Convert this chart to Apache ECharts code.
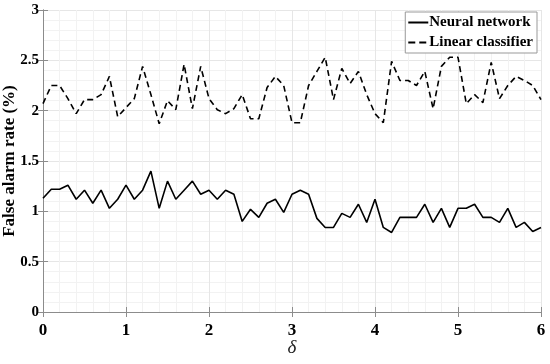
<!DOCTYPE html>
<html>
<head>
<meta charset="utf-8">
<script src="https://cdn.jsdelivr.net/npm/echarts@6/dist/echarts.min.js"></script>
<style>
  html, body { margin: 0; padding: 0; background: #fff; }
  #chart { width: 550px; height: 364px; }
</style>
</head>
<body>
<div id="chart"></div>
<script>
const delta = [
  0.0, 0.1, 0.2, 0.3, 0.4, 0.5, 0.6, 0.7, 0.8, 0.9,
  1.0, 1.1, 1.2, 1.3, 1.4, 1.5, 1.6, 1.7, 1.8, 1.9,
  2.0, 2.1, 2.2, 2.3, 2.4, 2.5, 2.6, 2.7, 2.8, 2.9,
  3.0, 3.1, 3.2, 3.3, 3.4, 3.5, 3.6, 3.7, 3.8, 3.9,
  4.0, 4.1, 4.2, 4.3, 4.4, 4.5, 4.6, 4.7, 4.8, 4.9,
  5.0, 5.1, 5.2, 5.3, 5.4, 5.5, 5.6, 5.7, 5.8, 5.9, 6.0
]

const neuralNetwork = [
  1.13, 1.22, 1.22, 1.26, 1.12, 1.21, 1.08, 1.21, 1.03, 1.12,
  1.26, 1.12, 1.21, 1.40, 1.03, 1.30, 1.12, 1.21, 1.30, 1.17,
  1.21, 1.12, 1.21, 1.17, 0.90, 1.02, 0.94, 1.08, 1.12, 0.99,
  1.17, 1.21, 1.17, 0.93, 0.84, 0.84, 0.98, 0.94, 1.07, 0.89,
  1.12, 0.84, 0.79, 0.94, 0.94, 0.94, 1.07, 0.89, 1.03, 0.84,
  1.03, 1.03, 1.07, 0.94, 0.94, 0.89, 1.03, 0.84, 0.89, 0.80, 0.84
]

const linearClassifier = [
  2.07, 2.25, 2.25, 2.12, 1.97, 2.11, 2.11, 2.16, 2.34, 1.94,
  2.03, 2.12, 2.44, 2.16, 1.87, 2.10, 2.01, 2.46, 2.02, 2.44,
  2.12, 2.01, 1.97, 2.02, 2.16, 1.92, 1.92, 2.23, 2.34, 2.25,
  1.88, 1.88, 2.25, 2.39, 2.53, 2.11, 2.42, 2.27, 2.39, 2.16,
  1.97, 1.88, 2.49, 2.30, 2.30, 2.25, 2.39, 2.02, 2.44, 2.53,
  2.53, 2.07, 2.16, 2.08, 2.48, 2.12, 2.25, 2.34, 2.30, 2.25, 2.11
]

const xTicks = [0, 1, 2, 3, 4, 5, 6]
const yTicks = [0, 0.5, 1, 1.5, 2, 2.5, 3]

const serif = '"Liberation Serif", "Times New Roman", serif'
const axisGray = '#8c8c8c'

const chart = echarts.init(document.getElementById('chart'), null, { renderer: 'canvas' })

function pairs(ys) {
  return delta.map((d, i) => [d, ys[i]])
}

const baseX = {
  type: 'value',
  min: xTicks[0],
  max: xTicks[xTicks.length - 1],
  interval: 1,
  axisLine: { show: true, lineStyle: { color: axisGray, width: 1 } },
  axisTick: { show: true, inside: true, length: 5, lineStyle: { color: axisGray } },
  splitLine: { show: true, lineStyle: { color: '#e6e6e6', width: 1 } },
  minorTick: { show: false, splitNumber: 5 },
  minorSplitLine: { show: true, lineStyle: { color: '#f2f2f2', width: 1 } }
}

const baseY = {
  type: 'value',
  min: yTicks[0],
  max: yTicks[yTicks.length - 1],
  interval: 0.5,
  axisLine: { show: true, lineStyle: { color: axisGray, width: 1 } },
  axisTick: { show: true, inside: true, length: 5, lineStyle: { color: axisGray } },
  splitLine: { show: true, lineStyle: { color: '#e6e6e6', width: 1 } },
  minorTick: { show: false, splitNumber: 5 },
  minorSplitLine: { show: true, lineStyle: { color: '#f2f2f2', width: 1 } }
}

// legend glyphs: a plain stroke and a two-dash stroke
const solidIcon = 'path://M0,0h20v2h-20z'
const dashIcon = 'path://M0,0h7v2h-7z M11,0h7v2h-7z M20,0h0.01v2h-0.01z'

chart.setOption({
  backgroundColor: '#ffffff',
  animation: false,
  grid: { left: 43, right: 9, top: 10, bottom: 52, containLabel: false, outerBoundsMode: 'none' },
  legend: {
    right: 13,
    top: 12,
    orient: 'vertical',
    backgroundColor: '#ffffff',
    borderColor: '#999999',
    borderWidth: 1,
    borderRadius: 0,
    padding: [3, 4, 3, 3],
    itemGap: 5,
    itemWidth: 20,
    itemHeight: 2,
    textStyle: { fontFamily: serif, fontWeight: 'bold', fontSize: 15, color: '#000', padding: [0, 0, 0, -4] },
    data: [
      { name: 'Neural network', icon: solidIcon },
      { name: 'Linear classifier', icon: dashIcon }
    ]
  },
  xAxis: [
    {
      ...baseX,
      position: 'bottom',
      name: 'δ',
      nameLocation: 'middle',
      nameGap: 26,
      nameMoveOverlap: false,
      nameTextStyle: { fontFamily: serif, fontStyle: 'italic', fontSize: 19, color: '#222' },
      axisLabel: { fontFamily: serif, fontWeight: 'bold', fontSize: 17, color: '#000', margin: 10 }
    },
    {
      ...baseX,
      position: 'top',
      axisLabel: { show: false },
      splitLine: { show: false },
      minorSplitLine: { show: false }
    }
  ],
  yAxis: [
    {
      ...baseY,
      position: 'left',
      name: 'False alarm rate (%)',
      nameLocation: 'middle',
      nameGap: 25,
      nameMoveOverlap: false,
      nameTextStyle: { fontFamily: serif, fontWeight: 'bold', fontSize: 17, color: '#000' },
      axisLabel: { fontFamily: serif, fontWeight: 'bold', fontSize: 15, color: '#000', margin: 4 }
    },
    {
      ...baseY,
      position: 'right',
      axisLabel: { show: false },
      splitLine: { show: false },
      minorSplitLine: { show: false }
    }
  ],
  series: [
    {
      name: 'Neural network',
      type: 'line',
      data: pairs(neuralNetwork),
      symbol: 'none',
      lineStyle: { color: '#000', width: 1.6, type: 'solid' },
      itemStyle: { color: '#000' }
    },
    {
      name: 'Linear classifier',
      type: 'line',
      data: pairs(linearClassifier),
      symbol: 'none',
      lineStyle: { color: '#000', width: 1.6, type: [6, 4] },
      itemStyle: { color: '#000' }
    }
  ]
})
</script>
</body>
</html>
